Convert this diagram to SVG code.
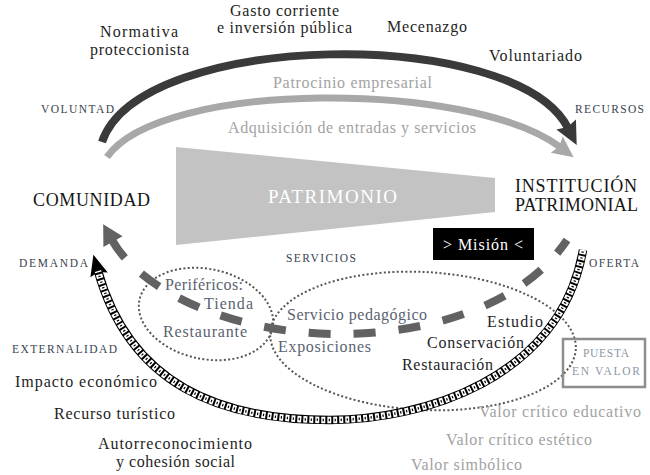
<svg xmlns="http://www.w3.org/2000/svg" width="650" height="475" viewBox="0 0 650 475" font-family="'Liberation Serif', 'Times New Roman', serif">
<defs>
<style>
text { font-family: "Liberation Serif", "Times New Roman", serif; }
.t { font-size: 16px; fill: #1e1e1e; }
.g { font-size: 16px; fill: #a2a2a2; }
.b { font-size: 16px; fill: #5a6371; }
.sc { font-size: 11.5px; fill: #3a4250; }
.pv { font-size: 11.5px; fill: #8c97a5; }
.big { font-size: 18px; fill: #151515; }
.dot { fill: none; stroke: #565656; stroke-width: 2; stroke-dasharray: 2 2.3; }
</style>
<marker id="ahDark" markerUnits="userSpaceOnUse" viewBox="-5 -12 26 24" markerWidth="26" markerHeight="24" refX="0" refY="0" orient="auto">
<path d="M-4,-11 L19,0 L-4,11 L-1,0 z" fill="#3a3a3a"/>
</marker>
<marker id="ahGray" markerUnits="userSpaceOnUse" viewBox="-5 -11 24 22" markerWidth="24" markerHeight="22" refX="0" refY="0" orient="auto">
<path d="M-4,-10 L17,0 L-4,10 L-1,0 z" fill="#a8a8a8"/>
</marker>
<marker id="ahDash" markerUnits="userSpaceOnUse" viewBox="-4 -12 24 24" markerWidth="24" markerHeight="24" refX="0" refY="0" orient="auto-start-reverse">
<path d="M-2,-11 L18,0 L-2,11 z" fill="#626262"/>
</marker>
<marker id="ahChain" markerUnits="userSpaceOnUse" viewBox="-5 -10 24 20" markerWidth="24" markerHeight="20" refX="0" refY="0" orient="auto">
<path d="M-4,-9 L17,0 L-4,9 L-1,0 z" fill="#000"/>
</marker>
</defs>

<rect width="650" height="475" fill="#fff"/>

<g id="patrimonio">
<polygon points="176,147 495,178 495,212 176,245" fill="#c3c3c3"/>
<text x="268" y="203" font-size="19" fill="#fff" textLength="129">PATRIMONIO</text>
</g>

<g id="perifericos">
<ellipse class="dot" cx="206" cy="314" rx="68" ry="45" transform="rotate(12 206 314)"/>
<text class="b" x="165" y="290" textLength="78">Periféricos:</text>
<text class="b" x="204" y="309" textLength="49">Tienda</text>
<text class="b" x="163" y="337" textLength="84">Restaurante</text>
</g>

<g id="servicios-nucleo">
<ellipse class="dot" cx="423" cy="341" rx="153" ry="69" transform="rotate(3 423 341)"/>
<text class="b" x="287" y="320" textLength="140">Servicio pedagógico</text>
<text class="b" x="278" y="352" textLength="93">Exposiciones</text>
<text class="t" x="487" y="327" textLength="56">Estudio</text>
<text class="t" x="427" y="348" textLength="97">Conservación</text>
<text class="t" x="402" y="370" textLength="91">Restauración</text>
</g>

<g id="mision">
<rect x="433" y="228" width="101" height="32" fill="#000"/>
<text x="443" y="250" font-size="16" fill="#fff" textLength="80">&gt; Misión &lt;</text>
</g>

<g id="puesta-en-valor">
<rect x="563" y="339" width="82" height="48" fill="none" stroke="#8e8e8e" stroke-width="2.5"/>
<text class="pv" x="583" y="357" textLength="46">PUESTA</text>
<text class="pv" x="572" y="375" textLength="68">EN VALOR</text>
</g>

<g id="comunidad">
<text class="big" x="33" y="206" textLength="117">COMUNIDAD</text>
</g>

<g id="institucion">
<text class="big" x="515" y="192" textLength="122">INSTITUCIÓN</text>
<text class="big" x="515" y="211" textLength="123">PATRIMONIAL</text>
</g>

<g id="connectors">
<path d="M102,142 C140,30 515,25 568,128" fill="none" stroke="#3a3a3a" stroke-width="8" marker-end="url(#ahDark)"/>
<path d="M107,157 C160,80 470,80 560,147" fill="none" stroke="#a8a8a8" stroke-width="7" marker-end="url(#ahGray)"/>
<path d="M112,240 C140,290 230,334 340,334 C420,334 520,310 567,240" fill="none" stroke="#626262" stroke-width="8" stroke-dasharray="22 23" marker-start="url(#ahDash)"/>
<g fill="none">
<path d="M583,250 C560,380 420,420 330,420 C220,420 130,385 98,271" stroke="#000" stroke-width="8.5" marker-end="url(#ahChain)"/>
<path d="M583,250 C560,380 420,420 330,420 C220,420 130,385 98,271" stroke="#fff" stroke-width="6.5" stroke-dasharray="4 2"/>
<path d="M583,250 C560,380 420,420 330,420 C220,420 130,385 98,271" stroke="#000" stroke-width="2.5" stroke-dasharray="1.2 4.8" stroke-dashoffset="-1.4"/>
</g>
</g>

<g id="labels">
<text class="t" x="100" y="37" textLength="78">Normativa</text>
<text class="t" x="90" y="55" textLength="99">proteccionista</text>
<text class="t" x="230" y="16" textLength="109">Gasto corriente</text>
<text class="t" x="217" y="33" textLength="135">e inversión pública</text>
<text class="t" x="387" y="32" textLength="80">Mecenazgo</text>
<text class="t" x="489" y="61" textLength="93">Voluntariado</text>
<text class="g" x="273" y="88" textLength="159">Patrocinio empresarial</text>
<text class="g" x="228" y="133" textLength="248">Adquisición de entradas y servicios</text>
<text class="sc" x="41" y="113" textLength="73">VOLUNTAD</text>
<text class="sc" x="575" y="113" textLength="69">RECURSOS</text>
<text class="sc" x="286" y="262" textLength="70">SERVICIOS</text>
<text class="sc" x="19" y="267" textLength="69">DEMANDA</text>
<text class="sc" x="589" y="267" textLength="50">OFERTA</text>
<text class="sc" x="12" y="353" textLength="105">EXTERNALIDAD</text>
<text class="t" x="15" y="387" textLength="142">Impacto económico</text>
<text class="t" x="54" y="419" textLength="121">Recurso turístico</text>
<text class="t" x="98" y="449" textLength="154">Autorreconocimiento</text>
<text class="t" x="116" y="467" textLength="119">y cohesión social</text>
<text class="g" x="479" y="417" textLength="162">Valor crítico educativo</text>
<text class="g" x="446" y="445" textLength="146">Valor crítico estético</text>
<text class="g" x="411" y="470" textLength="111">Valor simbólico</text>
</g>
</svg>
